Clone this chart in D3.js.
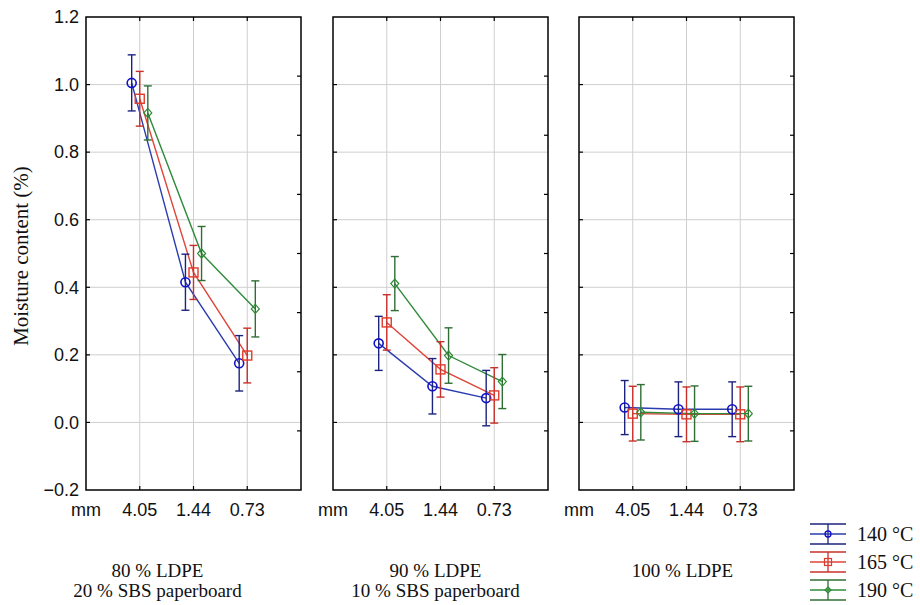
<!DOCTYPE html>
<html><head><meta charset="utf-8">
<script src="https://cdn.jsdelivr.net/npm/d3@7"></script>
<style>body{margin:0;background:#fff}</style>
</head><body><svg id="c" width="920" height="605"></svg>
<script>
// ---- data ----
const categories = ["4.05", "1.44", "0.73"];
const panels = ["80 % LDPE|20 % SBS paperboard", "90 % LDPE|10 % SBS paperboard", "100 % LDPE"];
const seriesNames = ["140 °C", "165 °C", "190 °C"];
// values[panel][category]
const s140 = [[1.005, 0.415, 0.175], [0.234, 0.107, 0.072], [0.044, 0.039, 0.039]];
const s165 = [[0.958, 0.444, 0.198], [0.296, 0.157, 0.080], [0.026, 0.024, 0.024]];
const s190 = [[0.916, 0.500, 0.336], [0.411, 0.198, 0.121], [0.030, 0.026, 0.026]];
const e140 = [[0.083, 0.083, 0.082], [0.080, 0.082, 0.082], [0.080, 0.081, 0.081]];
const e165 = [[0.081, 0.080, 0.081], [0.082, 0.082, 0.082], [0.081, 0.081, 0.081]];
const e190 = [[0.080, 0.080, 0.083], [0.080, 0.082, 0.080], [0.082, 0.082, 0.081]];
const yTicks = [-0.2, 0.0, 0.2, 0.4, 0.6, 0.8, 1.0, 1.2];

(function () {
// ---- layout ----
const svg = d3.select("#c");
const yTop = 17, yBot = 490;
const panelLeft = [86, 333, 579], panelW = 215;
const labelDx = [-36, -5, -4];
const colors = [
  {line: "#2b3cb0", mark: "#1010c8", err: "#1c237f"},
  {line: "#e0453a", mark: "#e03a2a", err: "#c8302a"},
  {line: "#2e8b3a", mark: "#2a8a30", err: "#2f6e35"}
];
const vals = [s140, s165, s190], errs = [e140, e165, e190];
const offs = [-0.15, 0, 0.15];

const y = d3.scaleLinear().domain([-0.2, 1.2]).range([yBot, yTop]);
const yR = d3.scaleLinear().domain([0, 8]).range([yBot, yTop]);

function marker(g, k, cx, cy, c) {
  if (k === 0) g.append("circle").attr("cx", cx).attr("cy", cy).attr("r", 4.5)
      .attr("fill", "none").attr("stroke", c).attr("stroke-width", 1.6);
  else if (k === 1) g.append("rect").attr("x", cx - 4.5).attr("y", cy - 4.5).attr("width", 9).attr("height", 9)
      .attr("fill", "none").attr("stroke", c).attr("stroke-width", 1.4);
  else g.append("path").attr("d", `M${cx},${cy-4.5}L${cx+4},${cy}L${cx},${cy+4.5}L${cx-4},${cy}Z`)
      .attr("fill", "none").attr("stroke", c).attr("stroke-width", 1.2);
}

panels.forEach((pname, p) => {
  const x0 = panelLeft[p];
  const x = d3.scaleLinear().domain([0, 4]).range([x0, x0 + panelW]);
  const g = svg.append("g");
  // grid
  g.selectAll(".hg").data(yTicks.slice(1, -1)).join("line")
    .attr("x1", x0).attr("x2", x0 + panelW).attr("y1", d => y(d)).attr("y2", d => y(d))
    .attr("stroke", "#cfcfcf").attr("stroke-width", 1);
  g.selectAll(".vg").data([1, 2, 3]).join("line")
    .attr("x1", d => x(d)).attr("x2", d => x(d)).attr("y1", yTop).attr("y2", yBot)
    .attr("stroke", "#cfcfcf").attr("stroke-width", 1);
  // ticks inward
  const tk = svg.append("g").attr("stroke", "#000").attr("stroke-width", 1.2);
  yTicks.slice(1, -1).forEach(t => {
    tk.append("line").attr("x1", x0).attr("x2", x0 + 4).attr("y1", y(t)).attr("y2", y(t));
  });
  d3.range(1, 8).forEach(t => {
    tk.append("line").attr("x1", x0 + panelW - 4).attr("x2", x0 + panelW).attr("y1", yR(t)).attr("y2", yR(t));
  });
  [1, 2, 3].forEach(t => {
    tk.append("line").attr("x1", x(t)).attr("x2", x(t)).attr("y1", yTop).attr("y2", yTop + 4);
    tk.append("line").attr("x1", x(t)).attr("x2", x(t)).attr("y1", yBot).attr("y2", yBot - 4);
  });
  // series
  vals.forEach((sv, k) => {
    const pts = sv[p].map((v, i) => [x(i + 1 + offs[k]), y(v)]);
    g.append("path").attr("d", d3.line()(pts)).attr("fill", "none")
      .attr("stroke", colors[k].line).attr("stroke-width", 1.4);
  });
  vals.forEach((sv, k) => {
    sv[p].forEach((v, i) => {
      const cx = x(i + 1 + offs[k]);
      const e = errs[k][p][i];
      const eg = g.append("g").attr("stroke", colors[k].err).attr("stroke-width", 1.4);
      eg.append("line").attr("x1", cx).attr("x2", cx).attr("y1", y(v + e)).attr("y2", y(v - e));
      eg.append("line").attr("x1", cx - 4).attr("x2", cx + 4).attr("y1", y(v + e)).attr("y2", y(v + e));
      eg.append("line").attr("x1", cx - 4).attr("x2", cx + 4).attr("y1", y(v - e)).attr("y2", y(v - e));
      marker(g, k, cx, y(v), colors[k].mark);
    });
  });
  // frame
  svg.append("rect").attr("x", x0).attr("y", yTop).attr("width", panelW).attr("height", yBot - yTop)
    .attr("fill", "none").attr("stroke", "#000").attr("stroke-width", 1.5);
  // x labels
  const xl = svg.append("g").attr("font-family", "Liberation Sans, Arial, sans-serif").attr("font-size", 18)
    .attr("fill", "#111").attr("text-anchor", "middle");
  ["mm"].concat(categories).forEach((t, i) => {
    xl.append("text").attr("x", x(i)).attr("y", 516).text(t);
  });
  // panel label
  const lines = pname.split("|");
  lines.forEach((l, j) => {
    svg.append("text").attr("font-family", "Liberation Serif, Times New Roman, serif").attr("font-size", 19)
      .attr("fill", "#111").attr("text-anchor", "middle")
      .attr("x", x0 + panelW / 2 + labelDx[p]).attr("y", 577 + j * 20).text(l);
  });
});

// y axis labels
const yl = svg.append("g").attr("font-family", "Liberation Sans, Arial, sans-serif").attr("font-size", 18)
  .attr("fill", "#111").attr("text-anchor", "end");
yTicks.forEach(t => {
  yl.append("text").attr("x", 79).attr("y", y(t)).attr("dy", "0.35em").text(d3.format(".1f")(t));
});
svg.append("text").attr("transform", `translate(28,256) rotate(-90)`)
  .attr("font-family", "Liberation Serif, Times New Roman, serif").attr("font-size", 21)
  .attr("fill", "#111").attr("text-anchor", "middle").text("Moisture content (%)");

// legend
const lg = svg.append("g");
seriesNames.forEach((n, k) => {
  const cy = 534 + k * 28, cx = 828;
  const eg = lg.append("g").attr("stroke", colors[k].err).attr("stroke-width", 1.3);
  eg.append("line").attr("x1", cx).attr("x2", cx).attr("y1", cy - 10).attr("y2", cy + 10);
  eg.append("line").attr("x1", cx - 18).attr("x2", cx + 18).attr("y1", cy - 10).attr("y2", cy - 10);
  eg.append("line").attr("x1", cx - 18).attr("x2", cx + 18).attr("y1", cy + 10).attr("y2", cy + 10);
  eg.append("line").attr("x1", cx - 18).attr("x2", cx + 18).attr("y1", cy).attr("y2", cy)
    .attr("stroke", colors[k].line);
  const mg = lg.append("g");
  if (k === 0) mg.append("circle").attr("cx", cx).attr("cy", cy).attr("r", 3).attr("fill", "none").attr("stroke", colors[k].mark).attr("stroke-width", 1.3);
  else if (k === 1) mg.append("rect").attr("x", cx - 3.5).attr("y", cy - 3.5).attr("width", 7).attr("height", 7).attr("fill", "none").attr("stroke", colors[k].mark).attr("stroke-width", 1.2);
  else mg.append("path").attr("d", `M${cx},${cy-3}L${cx+3},${cy}L${cx},${cy+3}L${cx-3},${cy}Z`).attr("fill", "none").attr("stroke", colors[k].mark).attr("stroke-width", 1.2);
  lg.append("text").attr("x", 857).attr("y", cy).attr("dy", "0.35em")
    .attr("font-family", "Liberation Serif, Times New Roman, serif").attr("font-size", 20).attr("fill", "#111").text(n);
});
})();
</script></body></html>
